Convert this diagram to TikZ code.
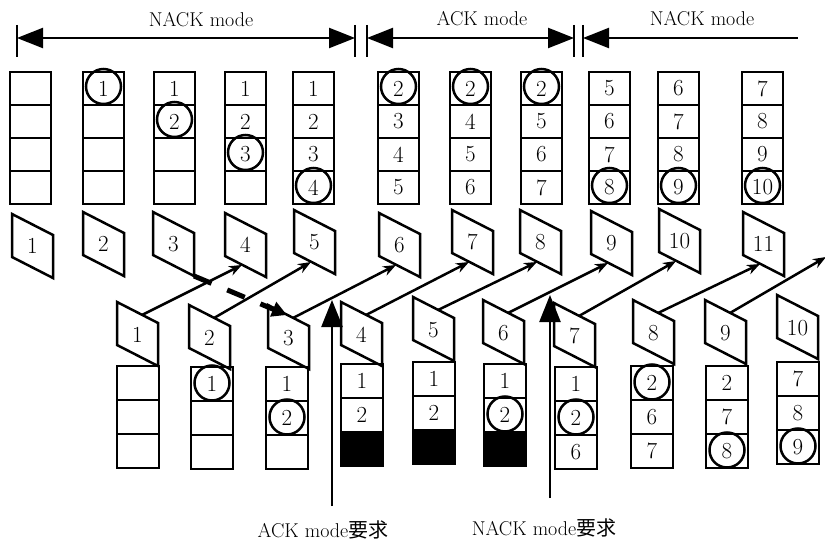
\documentclass[tikz,border=0pt]{standalone}
\usepackage{fontspec}
\newfontfamily\cjk{Noto Sans CJK SC}
\usetikzlibrary{arrows.meta}

\begin{document}
\begin{tikzpicture}[x=1pt, y=-1pt, line width=2.5pt, >={Stealth[length=13pt,width=10pt]},
  font=\fontsize{20}{24}\selectfont,
  num/.style={font=\fontsize{23}{26}\selectfont},
  cell/.style={draw, num, minimum width=41pt, minimum height=33pt, inner sep=0pt},
  modetip/.tip={Triangle[length=26pt,width=20pt]}]
  \useasboundingbox (0,0) rectangle (825,543);

  % 1. モード表示 (NACK / ACK / NACK)
  \coordinate (m0) at (17,38);
  \coordinate (m1) at (355,38);
  \coordinate (m2) at (367,38);
  \coordinate (m3) at (574,38);
  \coordinate (m4) at (583,38);
  \coordinate (m5) at (798,38);
  \foreach \c in {m0,m1,m2,m3,m4} \draw (\c) ++(0,-13) -- ++(0,32);
  \draw[modetip-modetip] (m0) -- (m1);
  \draw[modetip-modetip] (m2) -- (m3);
  \draw[modetip-] (m4) -- (m5);
  \node[anchor=base] (mode1) at (201,27) {NACK mode};
  \node[anchor=base] (mode2) at (482,26) {ACK mode};
  \node[anchor=base] (mode3) at (702,26) {NACK mode};

  % 2. 送信側バッファ (上段, 4 セル)
  \foreach \x/\na/\nb/\nc/\nd/\k [count=\i] in {
      10/~/~/~/~/0, 83/1/~/~/~/1, 154/1/2/~/~/2, 225/1/2/3/~/3,
      293/1/2/3/4/4, 378/2/3/4/5/1, 450/2/4/5/6/1, 521/2/5/6/7/1,
      589/5/6/7/8/4, 658/6/7/8/9/4, 742/7/8/9/10/4} {
    \foreach \v [count=\j] in {\na,\nb,\nc,\nd}
      \node[cell] (s\i-\j) at (\x+20.5,{88.5+33*(\j-1)}) {\v};
    \ifnum\k>0 \draw (s\i-\k) ++(0,-2) circle (17.5); \fi
  }

  % 3. 上段パケット
  \foreach \x/\y [count=\i] in {12/214, 83/212, 153/212, 225/213, 294/210, 379/213,
      452/210, 520/210, 591/211, 659/209, 743/212} {
    \coordinate (tp\i) at (\x,\y);
    \draw (tp\i) -- ++(41,21) -- ++(0,43) -- ++(-41,-21) -- cycle;
    \node[num] (tl\i) at ([shift={(20.5,32)}]tp\i) {\i};
    \coordinate (tp\i-in) at ([shift={(17,52)}]tp\i);
  }

  % 4. 下段パケット
  \foreach \x/\y [count=\i] in {117/302, 189/305, 268/305, 341/302, 413/297, 483/300,
      554/303, 633/300, 705/300, 777/295} {
    \coordinate (bp\i) at (\x,\y);
    \draw (bp\i) -- ++(41,21) -- ++(0,43) -- ++(-41,-21) -- cycle;
    \node[num] (bl\i) at ([shift={(20.5,33)}]bp\i) {\i};
    \coordinate (bp\i-out) at ([shift={(25,13)}]bp\i);
  }

  % 5. 送信の矢印 (下段 i -> 上段 i+3)
  \coordinate (rim) at (826,257);
  \foreach \i [evaluate=\i as \t using int(\i+3)] in {1,...,8}
    \draw[->] (bp\i-out) -- (tp\t-in);
  \draw[->] (bp9-out) -- (rim);

  % 太い破線矢印 (上段 3 -> 下段 3)
  \coordinate (tp3-se) at ([shift={(41,64)}]tp3);
  \coordinate (bp3-top) at ([shift={(19,10)}]bp3);
  \draw[line width=5pt, dash pattern=on 19pt off 17pt,
        -{Triangle[length=15pt,width=15pt]}] (tp3-se) -- (bp3-top);

  % 6. 受信側バッファ (下段, 3 セル)
  \foreach \x/\y/\na/\nb/\nc/\k [count=\i] in {
      117/366/~/~/~/0, 191/367/1/~/~/1, 266/367/1/2/~/2, 341/364/1/2/~/0,
      413/362/1/2/~/0, 484/364/1/2/~/2, 555/367/1/2/6/2, 631/366/2/6/7/1,
      706/366/2/7/8/3, 777/362/7/8/9/3} {
    \foreach \v [count=\j] in {\na,\nb,\nc}
      \node[cell, minimum width=42pt, minimum height=34pt] (r\i-\j) at (\x+21,{\y+17+34*(\j-1)}) {\v};
    \ifnum\k>0 \draw (r\i-\k) ++(0,-1) circle (17.5); \fi
  }
  \foreach \i in {4,5,6} \fill (r\i-3.north west) rectangle (r\i-3.south east);

  % 7. モード切替要求
  \coordinate (ack-tail) at (332,506);
  \coordinate (ack-head) at (332,300);
  \coordinate (nack-tail) at (550,498);
  \coordinate (nack-head) at (550,295);
  \draw[-{Triangle[length=27pt,width=21pt]}] (ack-tail) -- (ack-head);
  \draw[-{Triangle[length=27pt,width=21pt]}] (nack-tail) -- (nack-head);
  \node[anchor=base] (ackreq) at (323,537) {ACK mode{\cjk 要求}};
  \node[anchor=base] (nackreq) at (544,535) {NACK mode{\cjk 要求}};

\end{tikzpicture}
\end{document}
